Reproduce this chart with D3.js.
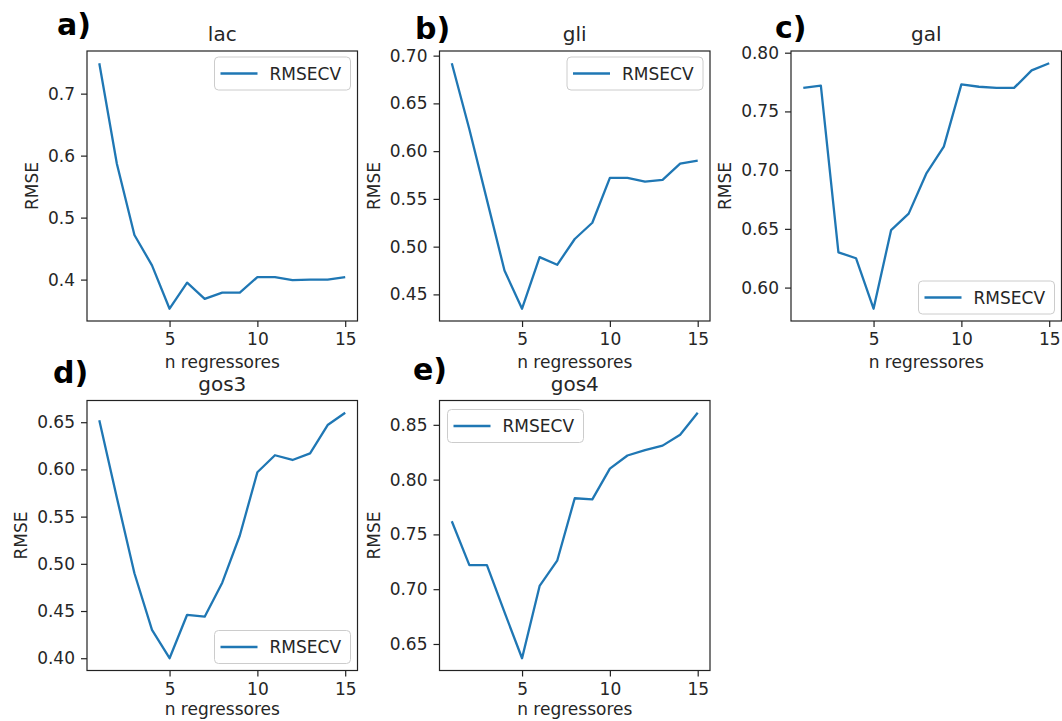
<!DOCTYPE html>
<html>
<head>
<meta charset="utf-8">
<script src="https://cdn.jsdelivr.net/npm/d3@7"></script>
<style>
  body { margin: 0; background: #ffffff; }
  svg text { font-family: "DejaVu Sans", sans-serif; fill: #262626; }
</style>
</head>
<body>
<svg id="fig" width="1062" height="721"></svg>
<script>
// Number of regressors used in each PLS model
const nRegressores = [1, 2, 3, 4, 5, 6, 7, 8, 9, 10, 11, 12, 13, 14, 15];

// Cross-validation error (RMSECV) for each analyte
const rmsecvLac  = [0.749, 0.587, 0.472, 0.423, 0.353, 0.395, 0.369, 0.379, 0.379, 0.404, 0.404, 0.399, 0.400, 0.400, 0.404];
const rmsecvGli  = [0.692, 0.623, 0.549, 0.475, 0.435, 0.489, 0.481, 0.508, 0.525, 0.572, 0.572, 0.568, 0.570, 0.587, 0.590];
const rmsecvGal  = [0.770, 0.772, 0.630, 0.625, 0.582, 0.649, 0.663, 0.697, 0.720, 0.773, 0.771, 0.770, 0.770, 0.785, 0.791];
const rmsecvGos3 = [0.652, 0.570, 0.490, 0.430, 0.400, 0.446, 0.444, 0.480, 0.530, 0.597, 0.615, 0.610, 0.617, 0.647, 0.660];
const rmsecvGos4 = [0.762, 0.722, 0.722, 0.679, 0.637, 0.703, 0.726, 0.783, 0.782, 0.810, 0.822, 0.827, 0.831, 0.841, 0.861];

// Tick labels
const xTickValues = [5, 10, 15];
const yTicksLac  = [0.4, 0.5, 0.6, 0.7];
const yTicksGli  = [0.45, 0.50, 0.55, 0.60, 0.65, 0.70];
const yTicksGal  = [0.60, 0.65, 0.70, 0.75, 0.80];
const yTicksGos3 = [0.40, 0.45, 0.50, 0.55, 0.60, 0.65];
const yTicksGos4 = [0.65, 0.70, 0.75, 0.80, 0.85];

// Text
const panelTitles  = ["lac", "gli", "gal", "gos3", "gos4"];
const panelLetters = ["a)", "b)", "c)", "d)", "e)"];
const seriesName = "RMSECV";
const xLabel = "n regressores";
const yLabel = "RMSE";

const lineColor = "#1f77b4";
const frameColor = "#222222";

// Placement of each panel on the page
const layout = [
  { left: 87,    top: 51,    legend: "upper right", fmt: ".1f", letterX: 57,  letterY: 35,  xlabDy: 47 },
  { left: 439.5, top: 51,    legend: "upper right", fmt: ".2f", letterX: 415, letterY: 39,  xlabDy: 47 },
  { left: 791,   top: 51,    legend: "lower right", fmt: ".2f", letterX: 775, letterY: 38,  xlabDy: 47 },
  { left: 87,    top: 400.5, legend: "lower right", fmt: ".2f", letterX: 53,  letterY: 383, xlabDy: 44 },
  { left: 439.5, top: 400.5, legend: "upper left",  fmt: ".2f", letterX: 413, letterY: 380, xlabDy: 44 }
];
const W = 270.5, H = 270;

const seriesList = [rmsecvLac, rmsecvGli, rmsecvGal, rmsecvGos3, rmsecvGos4];
const yTickList  = [yTicksLac, yTicksGli, yTicksGal, yTicksGos3, yTicksGos4];

const svg = d3.select("#fig");

// Axis limits with a 5% margin on both sides
function paddedExtent(values) {
  const [lo, hi] = d3.extent(values);
  const m = (hi - lo) * 0.05;
  return [lo - m, hi + m];
}

seriesList.forEach((values, i) => {
  const cfg = layout[i];
  const g = svg.append("g").attr("transform", `translate(${cfg.left},${cfg.top})`);

  const x = d3.scaleLinear().domain(paddedExtent(nRegressores)).range([0, W]);
  const y = d3.scaleLinear().domain(paddedExtent(values)).range([H, 0]);

  // x axis
  const xAxis = g.append("g").attr("transform", `translate(0,${H})`)
    .call(d3.axisBottom(x).tickValues(xTickValues).tickFormat(d3.format("d")).tickSize(6).tickPadding(6));
  // y axis
  const yAxis = g.append("g")
    .call(d3.axisLeft(y).tickValues(yTickList[i]).tickFormat(d3.format(cfg.fmt)).tickSize(6).tickPadding(6));

  [xAxis, yAxis].forEach(ax => {
    ax.select(".domain").remove();
    ax.selectAll(".tick line").attr("stroke", frameColor).attr("stroke-width", 1.2);
    ax.selectAll(".tick text").attr("font-size", 17).attr("font-family", "DejaVu Sans").attr("fill", "#262626");
  });

  // Series line
  g.append("path")
    .datum(nRegressores.map((n, k) => [n, values[k]]))
    .attr("fill", "none")
    .attr("stroke", lineColor)
    .attr("stroke-width", 2.3)
    .attr("stroke-linejoin", "round")
    .attr("d", d3.line().x(d => x(d[0])).y(d => y(d[1])));

  // Axes frame
  g.append("rect")
    .attr("width", W).attr("height", H)
    .attr("fill", "none").attr("stroke", frameColor).attr("stroke-width", 1.2);

  // Title
  g.append("text")
    .attr("x", W / 2).attr("y", -10)
    .attr("text-anchor", "middle").attr("font-size", 20)
    .text(panelTitles[i]);

  // x label
  g.append("text")
    .attr("x", W / 2).attr("y", H + cfg.xlabDy)
    .attr("text-anchor", "middle").attr("font-size", 17)
    .text(xLabel);

  // y label, placed just left of the widest tick label
  let minX = 0;
  yAxis.selectAll(".tick text").each(function () {
    const b = this.getBBox();
    const tx = -12 - b.width;
    if (tx < minX) minX = tx;
  });
  g.append("text")
    .attr("transform", `translate(${minX - 10},${H / 2}) rotate(-90)`)
    .attr("text-anchor", "middle").attr("font-size", 17)
    .text(yLabel);

  // Legend
  const lw = 136, lh = 33;
  let lx, ly;
  if (cfg.legend === "upper right") { lx = W - 7 - lw; ly = 6; }
  else if (cfg.legend === "lower right") { lx = W - 7 - lw; ly = H - 7 - lh; }
  else { lx = 8; ly = 9; }
  const leg = g.append("g").attr("transform", `translate(${lx},${ly})`);
  leg.append("rect")
    .attr("width", lw).attr("height", lh).attr("rx", 4)
    .attr("fill", "#ffffff").attr("fill-opacity", 0.8)
    .attr("stroke", "#cccccc").attr("stroke-width", 1);
  leg.append("line")
    .attr("x1", 6).attr("x2", 43).attr("y1", lh / 2).attr("y2", lh / 2)
    .attr("stroke", lineColor).attr("stroke-width", 2.3);
  leg.append("text")
    .attr("x", 55).attr("y", lh / 2).attr("dy", "0.36em")
    .attr("font-size", 17)
    .text(seriesName);

  // Panel letter
  svg.append("text")
    .attr("x", cfg.letterX).attr("y", cfg.letterY)
    .attr("font-family", "Lato, 'Open Sans', sans-serif")
    .attr("font-weight", "bold").attr("font-size", 30)
    .style("fill", "#000000")
    .text(panelLetters[i]);
});
</script>
</body>
</html>
